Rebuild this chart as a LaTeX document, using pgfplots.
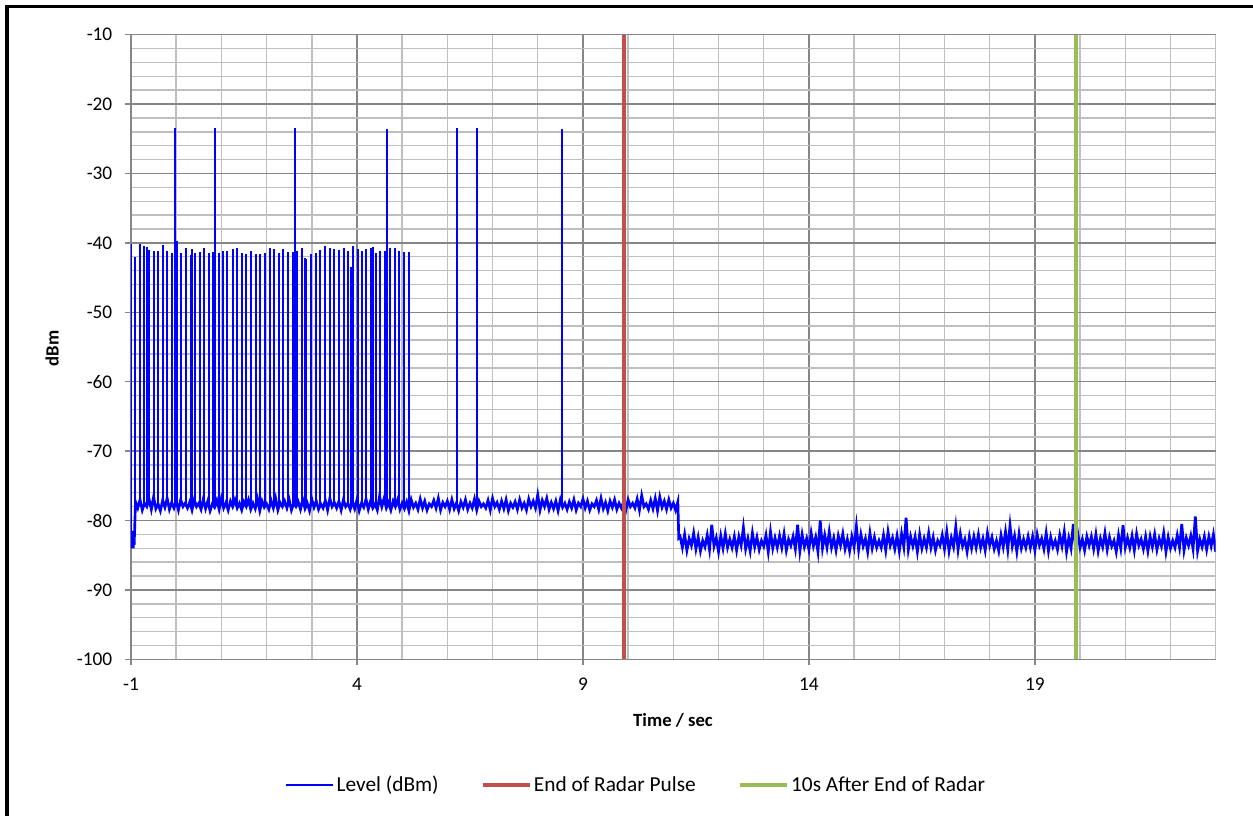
\documentclass[border=0pt]{standalone}
\usepackage{fontspec}
\setmainfont{Carlito}
\usepackage{pgfplots}
\pgfplotsset{compat=1.18}
\usetikzlibrary{calc}
\definecolor{majgrid}{RGB}{134,134,134}
\definecolor{mingrid}{RGB}{191,191,191}
\definecolor{radred}{RGB}{192,80,77}
\definecolor{radgreen}{RGB}{155,187,89}
\begin{document}
\begin{tikzpicture}
\begin{axis}[
  name=ax,
  scale only axis,
  width=813.5pt, height=468.5pt,
  xmin=-1, xmax=23, ymin=-100, ymax=-10,
  axis lines*=left,
  axis line style={-, draw=majgrid, line width=1.1pt},
  xtick={-1,4,9,14,19}, xticklabels={-1,4,9,14,19},
  minor xtick={0,1,2,3,5,6,7,8,10,11,12,13,15,16,17,18,20,21,22,23},
  ytick={-100,-90,-80,-70,-60,-50,-40,-30,-20,-10},
  yticklabels={-100,-90,-80,-70,-60,-50,-40,-30,-20,-10},
  minor ytick={-98,-96,-94,-92,-88,-86,-84,-82,-78,-76,-74,-72,-68,-66,-64,-62,-58,-56,-54,-52,-48,-46,-44,-42,-38,-36,-34,-32,-28,-26,-24,-22,-18,-16,-14,-12},
  grid=both,
  major grid style={draw=majgrid, line width=1.1pt},
  minor grid style={draw=mingrid, line width=1.1pt},
  tick align=outside, major tick length=4.5pt, minor tick length=0pt,
  tick style={draw=majgrid, line width=1.1pt},
  tick label style={font=\fontsize{14.5}{16}\selectfont},
  yticklabel style={xshift=-6pt},
  xticklabel style={yshift=-6pt},
  xlabel={Time / sec}, ylabel={dBm},
  label style={font=\bfseries\fontsize{14}{16}\selectfont},
  xlabel style={at={(axis description cs:0.4997,-0.098)}, anchor=center},
  ylabel style={at={(axis description cs:-0.0726,0.498)}, anchor=center},
  legend style={at={(0.466,-0.201)}, anchor=center, draw=none, fill=none,
    legend columns=3, font=\fontsize{16}{18}\selectfont,
    /tikz/every even column/.append style={column sep=30pt}},
  legend image code/.code={\draw[#1] (0pt,0pt) -- (35pt,0pt);},
]
\addplot[blue, line width=1.5pt, unbounded coords=jump] coordinates {
(-0.99,-82.0) (-0.99,-40.2) (-0.99,nan)
(-0.92,-77.8) (-0.92,-42.1) (-0.92,nan)
(-0.81,-77.8) (-0.81,-40.2) (-0.81,nan)
(-0.71,-77.8) (-0.71,-40.4) (-0.71,nan)
(-0.65,-77.8) (-0.65,-40.6) (-0.65,nan)
(-0.61,-77.8) (-0.61,-41.0) (-0.61,nan)
(-0.50,-77.8) (-0.50,-41.1) (-0.50,nan)
(-0.41,-77.8) (-0.41,-41.1) (-0.41,nan)
(-0.30,-77.8) (-0.30,-40.3) (-0.30,nan)
(-0.21,-77.8) (-0.21,-41.1) (-0.21,nan)
(-0.09,-77.8) (-0.09,-41.4) (-0.09,nan)
(-0.02,-77.8) (-0.02,-23.5) (-0.02,nan)
(0.01,-77.8) (0.01,-39.8) (0.01,nan)
(0.11,-77.8) (0.11,-41.4) (0.11,nan)
(0.22,-77.8) (0.22,-40.8) (0.22,nan)
(0.32,-77.8) (0.32,-41.7) (0.32,nan)
(0.35,-77.8) (0.35,-40.9) (0.35,nan)
(0.41,-77.8) (0.41,-41.4) (0.41,nan)
(0.53,-77.8) (0.53,-41.3) (0.53,nan)
(0.62,-77.8) (0.62,-40.8) (0.62,nan)
(0.73,-77.8) (0.73,-41.5) (0.73,nan)
(0.81,-77.8) (0.81,-41.3) (0.81,nan)
(0.86,-77.8) (0.86,-23.5) (0.86,nan)
(0.94,-77.8) (0.94,-41.5) (0.94,nan)
(1.03,-77.8) (1.03,-41.2) (1.03,nan)
(1.13,-77.8) (1.13,-41.1) (1.13,nan)
(1.25,-77.8) (1.25,-40.9) (1.25,nan)
(1.34,-77.8) (1.34,-40.7) (1.34,nan)
(1.45,-77.8) (1.45,-41.5) (1.45,nan)
(1.55,-77.8) (1.55,-41.6) (1.55,nan)
(1.65,-77.8) (1.65,-41.2) (1.65,nan)
(1.76,-77.8) (1.76,-41.6) (1.76,nan)
(1.86,-77.8) (1.86,-41.6) (1.86,nan)
(1.96,-77.8) (1.96,-41.4) (1.96,nan)
(2.07,-77.8) (2.07,-40.8) (2.07,nan)
(2.17,-77.8) (2.17,-40.9) (2.17,nan)
(2.27,-77.8) (2.27,-41.4) (2.27,nan)
(2.37,-77.8) (2.37,-40.9) (2.37,nan)
(2.47,-77.8) (2.47,-41.3) (2.47,nan)
(2.58,-77.8) (2.58,-41.3) (2.58,nan)
(2.62,-77.8) (2.62,-23.5) (2.62,nan)
(2.68,-77.8) (2.68,-41.2) (2.68,nan)
(2.79,-77.8) (2.79,-40.7) (2.79,nan)
(2.84,-77.8) (2.84,-42.2) (2.84,nan)
(2.88,-77.8) (2.88,-42.3) (2.88,nan)
(2.99,-77.8) (2.99,-41.6) (2.99,nan)
(3.09,-77.8) (3.09,-41.4) (3.09,nan)
(3.19,-77.8) (3.19,-41.0) (3.19,nan)
(3.29,-77.8) (3.29,-40.4) (3.29,nan)
(3.41,-77.8) (3.41,-40.7) (3.41,nan)
(3.50,-77.8) (3.50,-40.9) (3.50,nan)
(3.60,-77.8) (3.60,-41.0) (3.60,nan)
(3.71,-77.8) (3.71,-40.7) (3.71,nan)
(3.81,-77.8) (3.81,-41.2) (3.81,nan)
(3.86,-77.8) (3.86,-43.5) (3.86,nan)
(3.92,-77.8) (3.92,-40.5) (3.92,nan)
(4.02,-77.8) (4.02,-40.9) (4.02,nan)
(4.11,-77.8) (4.11,-41.2) (4.11,nan)
(4.21,-77.8) (4.21,-40.9) (4.21,nan)
(4.31,-77.8) (4.31,-40.7) (4.31,nan)
(4.36,-77.8) (4.36,-40.6) (4.36,nan)
(4.42,-77.8) (4.42,-41.4) (4.42,nan)
(4.52,-77.8) (4.52,-41.2) (4.52,nan)
(4.62,-77.8) (4.62,-41.1) (4.62,nan)
(4.67,-77.8) (4.67,-23.6) (4.67,nan)
(4.74,-77.8) (4.74,-40.7) (4.74,nan)
(4.84,-77.8) (4.84,-40.7) (4.84,nan)
(4.94,-77.8) (4.94,-41.1) (4.94,nan)
(5.05,-77.8) (5.05,-41.3) (5.05,nan)
(5.16,-77.8) (5.16,-41.3) (5.16,nan)
(6.21,-77.8) (6.21,-23.5) (6.21,nan)
(6.65,-77.8) (6.65,-23.5) (6.65,nan)
(8.53,-77.8) (8.53,-23.6)
};
\addlegendentry{Level (dBm)}
\addplot[blue, line width=2pt, forget plot] coordinates {
(-1.00,-82.5) (-0.99,-84.0) (-0.98,-81.5) (-0.97,-83.8) (-0.96,-83.0) (-0.95,-84.0) (-0.94,-82.2) (-0.93,-83.5)
(-0.90,-77.3) (-0.85,-78.2) (-0.80,-77.0) (-0.75,-78.5) (-0.70,-77.5) (-0.65,-78.0) (-0.60,-76.9) (-0.55,-78.4) (-0.50,-76.6) (-0.45,-78.3)
(-0.40,-77.6) (-0.35,-78.6) (-0.30,-77.1) (-0.25,-78.1) (-0.20,-76.8) (-0.15,-78.4) (-0.10,-77.4) (-0.05,-78.2) (0.00,-77.2) (0.05,-78.5)
(0.10,-77.0) (0.15,-78.0) (0.20,-77.5) (0.25,-78.2) (0.30,-77.3) (0.35,-78.5) (0.40,-77.0) (0.45,-78.0) (0.50,-77.5) (0.55,-78.4)
(0.60,-76.9) (0.65,-78.3) (0.70,-77.2) (0.75,-78.6) (0.80,-77.6) (0.85,-78.1) (0.90,-77.1) (0.95,-78.4) (1.00,-76.8) (1.05,-78.2)
(1.10,-77.4) (1.15,-78.5) (1.20,-77.2) (1.25,-78.0) (1.30,-77.0) (1.35,-78.2) (1.40,-77.5) (1.45,-78.5) (1.50,-77.3) (1.55,-78.0)
(1.60,-77.0) (1.65,-78.4) (1.70,-77.5) (1.75,-78.3) (1.80,-76.9) (1.85,-78.6) (1.90,-77.2) (1.95,-78.1) (2.00,-77.6) (2.05,-78.4)
(2.10,-77.1) (2.15,-78.2) (2.20,-76.8) (2.25,-78.5) (2.30,-77.4) (2.35,-78.0) (2.40,-77.2) (2.45,-78.2) (2.50,-77.0) (2.55,-78.5)
(2.60,-77.5) (2.65,-78.0) (2.70,-77.3) (2.75,-78.4) (2.80,-77.0) (2.85,-78.3) (2.90,-77.5) (2.95,-78.6) (3.00,-76.9) (3.05,-78.1)
(3.10,-77.2) (3.15,-78.4) (3.20,-77.6) (3.25,-78.2) (3.30,-77.1) (3.35,-78.5) (3.40,-76.8) (3.45,-78.0) (3.50,-77.4) (3.55,-78.2)
(3.60,-77.2) (3.65,-78.5) (3.70,-77.0) (3.75,-78.0) (3.80,-77.5) (3.85,-78.4) (3.90,-77.3) (3.95,-78.3) (4.00,-77.0) (4.05,-78.6)
(4.10,-77.5) (4.15,-78.1) (4.20,-76.9) (4.25,-78.4) (4.30,-77.2) (4.35,-78.2) (4.40,-77.6) (4.45,-78.5) (4.50,-76.5) (4.55,-78.0)
(4.60,-76.8) (4.65,-78.2) (4.70,-77.4) (4.75,-78.5) (4.80,-77.2) (4.85,-78.0) (4.90,-77.0) (4.95,-78.4) (5.00,-77.5) (5.05,-78.3)
(5.10,-77.3) (5.15,-78.6) (5.20,-77.0) (5.25,-78.1) (5.30,-77.5) (5.35,-78.4) (5.40,-76.9) (5.45,-78.2) (5.50,-77.2) (5.55,-78.5)
(5.60,-77.6) (5.65,-78.0) (5.70,-77.1) (5.75,-78.2) (5.80,-76.8) (5.85,-78.5) (5.90,-77.4) (5.95,-78.0) (6.00,-77.2) (6.05,-78.4)
(6.10,-77.0) (6.15,-78.3) (6.20,-77.5) (6.25,-78.6) (6.30,-77.3) (6.35,-78.1) (6.40,-77.0) (6.45,-78.4) (6.50,-77.5) (6.55,-78.2)
(6.60,-76.9) (6.65,-78.5) (6.70,-77.2) (6.75,-78.0) (6.80,-77.6) (6.85,-78.2) (6.90,-77.1) (6.95,-78.5) (7.00,-76.8) (7.05,-78.0)
(7.10,-77.4) (7.15,-78.4) (7.20,-77.2) (7.25,-78.3) (7.30,-77.0) (7.35,-78.6) (7.40,-77.5) (7.45,-78.1) (7.50,-77.3) (7.55,-78.4)
(7.60,-77.0) (7.65,-78.2) (7.70,-77.5) (7.75,-78.5) (7.80,-76.9) (7.85,-78.0) (7.90,-77.2) (7.95,-78.2) (8.00,-76.3) (8.05,-78.5)
(8.10,-77.1) (8.15,-78.0) (8.20,-76.8) (8.25,-78.4) (8.30,-77.4) (8.35,-78.3) (8.40,-77.2) (8.45,-78.6) (8.50,-77.0) (8.55,-78.1)
(8.60,-77.5) (8.65,-78.4) (8.70,-77.3) (8.75,-78.2) (8.80,-77.0) (8.85,-78.5) (8.90,-77.5) (8.95,-78.0) (9.00,-76.9) (9.05,-78.2)
(9.10,-77.2) (9.15,-78.5) (9.20,-77.6) (9.25,-78.0) (9.30,-77.1) (9.35,-78.4) (9.40,-76.8) (9.45,-78.3) (9.50,-77.4) (9.55,-78.6)
(9.60,-77.2) (9.65,-78.1) (9.70,-77.0) (9.75,-78.4) (9.80,-77.5) (9.85,-78.2) (9.90,-77.3) (9.95,-78.5) (10.00,-77.0) (10.05,-78.0)
(10.10,-77.5) (10.15,-78.2) (10.20,-76.9) (10.25,-78.5) (10.30,-76.4) (10.35,-78.0) (10.40,-77.6) (10.45,-78.4) (10.50,-77.1) (10.55,-78.3)
(10.60,-76.8) (10.65,-78.6) (10.70,-76.6) (10.75,-78.1) (10.80,-77.2) (10.85,-78.4) (10.90,-77.0) (10.95,-78.2) (11.00,-77.5) (11.05,-78.5)
(11.10,-77.3) (11.12,-82.5)
(11.15,-82.3) (11.20,-83.9) (11.25,-82.0) (11.30,-84.3) (11.35,-82.6) (11.40,-83.6) (11.45,-81.8) (11.50,-84.1) (11.55,-82.4) (11.60,-84.4)
(11.65,-82.9) (11.70,-83.8) (11.75,-82.1) (11.80,-84.2) (11.85,-80.6) (11.90,-83.7) (11.95,-82.5) (12.00,-84.5) (12.05,-82.2) (12.10,-84.0)
(12.15,-81.9) (12.20,-83.9) (12.25,-82.7) (12.30,-83.9) (12.35,-82.3) (12.40,-84.3) (12.45,-82.3) (12.50,-83.6) (12.55,-81.0) (12.60,-84.1)
(12.65,-82.6) (12.70,-84.4) (12.75,-81.8) (12.80,-83.8) (12.85,-82.4) (12.90,-84.2) (12.95,-82.9) (13.00,-83.7) (13.05,-82.1) (13.10,-84.5)
(13.15,-81.6) (13.20,-84.0) (13.25,-82.5) (13.30,-83.9) (13.35,-82.2) (13.40,-83.9) (13.45,-81.9) (13.50,-84.3) (13.55,-82.7) (13.60,-83.6)
(13.65,-82.3) (13.70,-84.1) (13.75,-80.6) (13.80,-84.4) (13.85,-82.0) (13.90,-83.8) (13.95,-82.6) (14.00,-84.2) (14.05,-81.8) (14.10,-83.7)
(14.15,-82.4) (14.20,-84.5) (14.25,-80.0) (14.30,-84.0) (14.35,-82.1) (14.40,-83.9) (14.45,-81.6) (14.50,-83.9) (14.55,-82.5) (14.60,-84.3)
(14.65,-82.2) (14.70,-83.6) (14.75,-81.9) (14.80,-84.1) (14.85,-82.7) (14.90,-84.4) (14.95,-82.3) (15.00,-83.8) (15.05,-80.8) (15.10,-84.2)
(15.15,-82.0) (15.20,-83.7) (15.25,-82.6) (15.30,-84.5) (15.35,-81.8) (15.40,-84.0) (15.45,-82.4) (15.50,-83.9) (15.55,-82.9) (15.60,-83.9)
(15.65,-82.1) (15.70,-84.3) (15.75,-81.6) (15.80,-83.6) (15.85,-82.5) (15.90,-84.1) (15.95,-82.2) (16.00,-84.4) (16.05,-81.9) (16.10,-83.8)
(16.15,-79.6) (16.20,-84.2) (16.25,-82.3) (16.30,-83.7) (16.35,-82.3) (16.40,-84.5) (16.45,-82.0) (16.50,-84.0) (16.55,-82.6) (16.60,-83.9)
(16.65,-81.8) (16.70,-83.9) (16.75,-82.4) (16.80,-84.3) (16.85,-82.9) (16.90,-83.6) (16.95,-82.1) (17.00,-84.1) (17.05,-81.6) (17.10,-84.4)
(17.15,-82.5) (17.20,-83.8) (17.25,-80.9) (17.30,-84.2) (17.35,-81.9) (17.40,-83.7) (17.45,-82.7) (17.50,-84.5) (17.55,-82.3) (17.60,-84.0)
(17.65,-82.3) (17.70,-83.9) (17.75,-82.0) (17.80,-83.9) (17.85,-82.6) (17.90,-84.3) (17.95,-81.8) (18.00,-83.6) (18.05,-82.4) (18.10,-84.1)
(18.15,-82.9) (18.20,-84.4) (18.25,-82.1) (18.30,-83.8) (18.35,-81.6) (18.40,-84.2) (18.45,-80.7) (18.50,-83.7) (18.55,-82.2) (18.60,-84.5)
(18.65,-81.9) (18.70,-84.0) (18.75,-82.7) (18.80,-83.9) (18.85,-82.3) (18.90,-83.9) (18.95,-82.3) (19.00,-84.3) (19.05,-82.0) (19.10,-83.6)
(19.15,-82.6) (19.20,-84.1) (19.25,-81.8) (19.30,-84.4) (19.35,-82.4) (19.40,-83.8) (19.45,-82.9) (19.50,-84.2) (19.55,-82.1) (19.60,-83.7)
(19.65,-81.6) (19.70,-84.5) (19.75,-82.5) (19.80,-84.0) (19.85,-80.5) (19.90,-83.9) (19.95,-81.9) (20.00,-83.9) (20.05,-82.7) (20.10,-84.3)
(20.15,-82.3) (20.20,-83.6) (20.25,-82.3) (20.30,-84.1) (20.35,-82.0) (20.40,-84.4) (20.45,-82.6) (20.50,-83.8) (20.55,-81.8) (20.60,-84.2)
(20.65,-82.4) (20.70,-83.7) (20.75,-82.9) (20.80,-84.5) (20.85,-82.1) (20.90,-84.0) (20.95,-80.7) (21.00,-83.9) (21.05,-82.5) (21.10,-83.9)
(21.15,-82.2) (21.20,-84.3) (21.25,-81.9) (21.30,-83.6) (21.35,-82.7) (21.40,-84.1) (21.45,-82.3) (21.50,-84.4) (21.55,-82.3) (21.60,-83.8)
(21.65,-82.0) (21.70,-84.2) (21.75,-82.6) (21.80,-83.7) (21.85,-81.8) (21.90,-84.5) (21.95,-82.4) (22.00,-84.0) (22.05,-82.9) (22.10,-83.9)
(22.15,-82.1) (22.20,-83.9) (22.25,-80.5) (22.30,-84.3) (22.35,-82.5) (22.40,-83.6) (22.45,-82.2) (22.50,-84.1) (22.55,-79.4) (22.60,-84.4)
(22.65,-82.7) (22.70,-83.8) (22.75,-82.3) (22.80,-84.2) (22.85,-82.3) (22.90,-83.7) (22.95,-82.0) (23.00,-84.5)
};
\addplot[radred, line width=2.5pt] coordinates {(9.91,-100) (9.91,-10)};
\addlegendentry{End of Radar Pulse}
\addplot[radgreen, line width=2.5pt] coordinates {(19.91,-100) (19.91,-10)};
\addlegendentry{10s After End of Radar}
\end{axis}
\pgfresetboundingbox
\path[use as bounding box] ($(ax.south west)+(-98.25pt,-117.5pt)$) rectangle ($(ax.north east)+(28pt,26pt)$);
\draw[line width=2.5pt] ($(ax.south west)+(-93pt,-140pt)$) -- ($(ax.north west)+(-93pt,21.3pt)$) -- ($(ax.north east)+(45pt,21.3pt)$);
\end{tikzpicture}
\end{document}
